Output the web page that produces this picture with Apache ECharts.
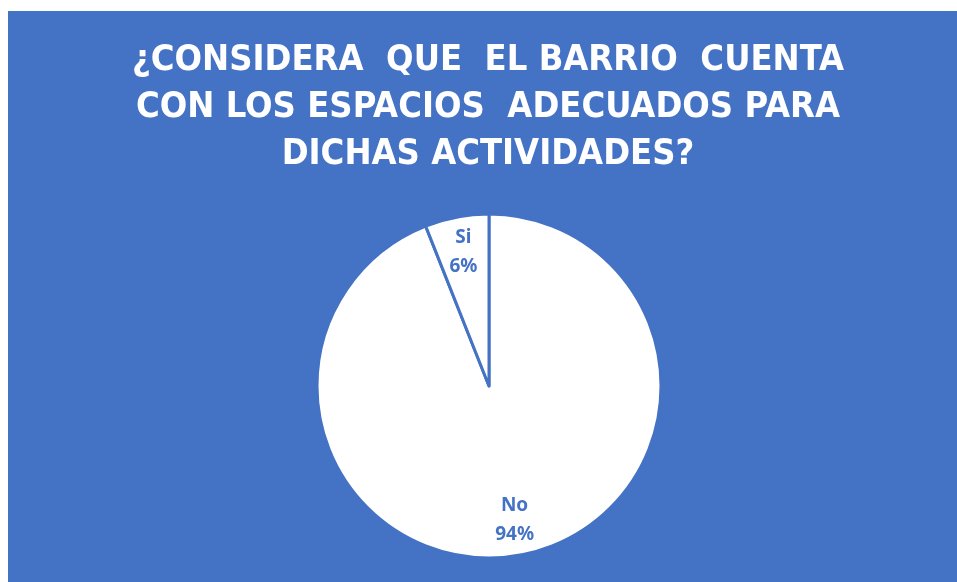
<!DOCTYPE html>
<html>
<head>
<meta charset="utf-8">
<script src="https://cdn.jsdelivr.net/npm/echarts@6/dist/echarts.min.js"></script>
<style>
  html, body { margin: 0; padding: 0; background: #ffffff; }
  #chart { position: absolute; left: 8px; top: 11px; width: 949px; height: 571px; }
</style>
</head>
<body>
<div id="chart"></div>
<script>
  // data
  var titleLines = ['¿CONSIDERA  QUE  EL BARRIO  CUENTA', 'CON LOS ESPACIOS  ADECUADOS PARA', 'DICHAS ACTIVIDADES?']
  var categories = ['No', 'Si']
  var values = [94, 6]

  var blue = '#4472C4'
  var pieData = categories.map(function (c, i) {
    return { name: c, value: values[i] }
  })

  var chart = echarts.init(document.getElementById('chart'))
  chart.setOption({
    backgroundColor: blue,
    title: {
      text: titleLines.join('\n'),
      left: 480,
      textAlign: 'center',
      top: 26,
      padding: 0,
      textStyle: {
        color: '#ffffff',
        fontFamily: '"Liberation Sans Narrow", "DejaVu Sans Condensed", sans-serif',
        fontWeight: 'bold',
        fontSize: 36,
        lineHeight: 47
      }
    },
    series: [
      {
        type: 'pie',
        center: [481, 375],
        radius: [0, 172],
        startAngle: 90,
        clockwise: true,
        silent: true,
        label: { show: false },
        labelLine: { show: false },
        itemStyle: { color: '#ffffff', borderColor: blue, borderWidth: 3 },
        data: pieData
      },
      {
        // transparent ring only used to place the labels further out
        type: 'pie',
        center: [481, 375],
        radius: [95, 172],
        startAngle: 90,
        clockwise: true,
        silent: true,
        itemStyle: { color: 'rgba(0,0,0,0)', borderWidth: 0 },
        label: {
          show: true,
          position: 'inside',
          formatter: '{b}\n{d}%',
          color: blue,
          fontFamily: '"Noto Sans", sans-serif',
          fontWeight: 'bold',
          fontSize: 19,
          lineHeight: 29
        },
        labelLine: { show: false },
        data: pieData
      }
    ]
  })
</script>
</body>
</html>
